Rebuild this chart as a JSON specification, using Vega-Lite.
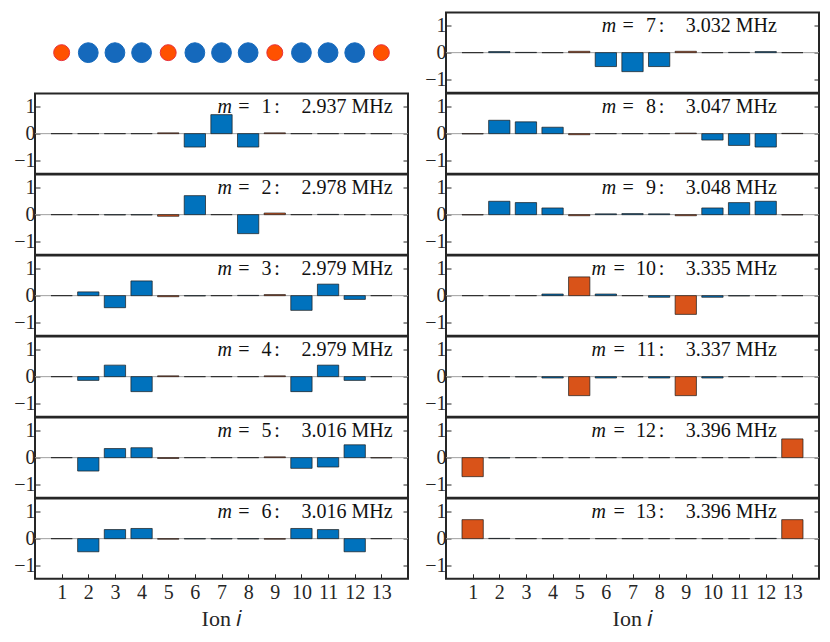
{
  "$schema": "https://vega.github.io/schema/vega-lite/v6.json",
  "description": "Normal-mode participation of a 13-ion chain, modes m = 1..13.",
  "padding": {"left": 12, "top": 11.5, "right": 5, "bottom": 5},
  "background": "white",
  "config": {
    "view": {"stroke": "#262626", "strokeWidth": 2},
    "axis": {
      "disable": true, "grid": false, "domain": false, "minExtent": 0,
      "labelFont": "Liberation Serif, Times New Roman, Times, serif", "labelFontSize": 20, "labelColor": "#262626",
      "tickColor": "#262626", "tickSize": -5, "tickWidth": 1, "labelPadding": 5,
      "titleFont": "Liberation Serif, Times New Roman, Times, serif", "titleFontSize": 22, "titleFontWeight": "normal",
      "titleColor": "#262626", "titlePadding": 6
    },
    "text": {"font": "Liberation Serif, Times New Roman, Times, serif", "fontSize": 20, "color": "#111", "baseline": "alphabetic", "dy": 6},
    "bar": {"stroke": "#1a1a1a", "strokeWidth": 0.7}
  },
  "datasets": {
    "ions": [
      {"ion": 1, "species": "edge"}, {"ion": 2, "species": "bulk"}, {"ion": 3, "species": "bulk"},
      {"ion": 4, "species": "bulk"}, {"ion": 5, "species": "edge"}, {"ion": 6, "species": "bulk"},
      {"ion": 7, "species": "bulk"}, {"ion": 8, "species": "bulk"}, {"ion": 9, "species": "edge"},
      {"ion": 10, "species": "bulk"}, {"ion": 11, "species": "bulk"}, {"ion": 12, "species": "bulk"},
      {"ion": 13, "species": "edge"}
    ],
    "labels": [
      {"m": 1, "freq": "2.937 MHz"}, {"m": 2, "freq": "2.978 MHz"}, {"m": 3, "freq": "2.979 MHz"},
      {"m": 4, "freq": "2.979 MHz"}, {"m": 5, "freq": "3.016 MHz"}, {"m": 6, "freq": "3.016 MHz"},
      {"m": 7, "freq": "3.032 MHz"}, {"m": 8, "freq": "3.047 MHz"}, {"m": 9, "freq": "3.048 MHz"},
      {"m": 10, "freq": "3.335 MHz"}, {"m": 11, "freq": "3.337 MHz"}, {"m": 12, "freq": "3.396 MHz"},
      {"m": 13, "freq": "3.396 MHz"}
    ],
    "modes": [
      {"m":1,"ion":1,"amp":0},{"m":1,"ion":2,"amp":0},{"m":1,"ion":3,"amp":0},{"m":1,"ion":4,"amp":0},{"m":1,"ion":5,"amp":0.03},{"m":1,"ion":6,"amp":-0.5},{"m":1,"ion":7,"amp":0.71},{"m":1,"ion":8,"amp":-0.5},{"m":1,"ion":9,"amp":0.03},{"m":1,"ion":10,"amp":0},{"m":1,"ion":11,"amp":0},{"m":1,"ion":12,"amp":0},{"m":1,"ion":13,"amp":0},
      {"m":2,"ion":1,"amp":0},{"m":2,"ion":2,"amp":0},{"m":2,"ion":3,"amp":-0.01},{"m":2,"ion":4,"amp":-0.01},{"m":2,"ion":5,"amp":-0.06},{"m":2,"ion":6,"amp":0.71},{"m":2,"ion":7,"amp":0},{"m":2,"ion":8,"amp":-0.71},{"m":2,"ion":9,"amp":0.06},{"m":2,"ion":10,"amp":0},{"m":2,"ion":11,"amp":0.01},{"m":2,"ion":12,"amp":0},{"m":2,"ion":13,"amp":0},
      {"m":3,"ion":1,"amp":0},{"m":3,"ion":2,"amp":0.14},{"m":3,"ion":3,"amp":-0.45},{"m":3,"ion":4,"amp":0.55},{"m":3,"ion":5,"amp":-0.04},{"m":3,"ion":6,"amp":-0.01},{"m":3,"ion":7,"amp":0},{"m":3,"ion":8,"amp":0.01},{"m":3,"ion":9,"amp":0.04},{"m":3,"ion":10,"amp":-0.55},{"m":3,"ion":11,"amp":0.43},{"m":3,"ion":12,"amp":-0.14},{"m":3,"ion":13,"amp":0},
      {"m":4,"ion":1,"amp":0},{"m":4,"ion":2,"amp":-0.14},{"m":4,"ion":3,"amp":0.43},{"m":4,"ion":4,"amp":-0.56},{"m":4,"ion":5,"amp":0.03},{"m":4,"ion":6,"amp":0},{"m":4,"ion":7,"amp":0},{"m":4,"ion":8,"amp":0},{"m":4,"ion":9,"amp":0.03},{"m":4,"ion":10,"amp":-0.56},{"m":4,"ion":11,"amp":0.43},{"m":4,"ion":12,"amp":-0.14},{"m":4,"ion":13,"amp":0},
      {"m":5,"ion":1,"amp":0},{"m":5,"ion":2,"amp":-0.5},{"m":5,"ion":3,"amp":0.34},{"m":5,"ion":4,"amp":0.37},{"m":5,"ion":5,"amp":-0.03},{"m":5,"ion":6,"amp":0},{"m":5,"ion":7,"amp":0},{"m":5,"ion":8,"amp":0},{"m":5,"ion":9,"amp":0.03},{"m":5,"ion":10,"amp":-0.4},{"m":5,"ion":11,"amp":-0.35},{"m":5,"ion":12,"amp":0.48},{"m":5,"ion":13,"amp":-0.01},
      {"m":6,"ion":1,"amp":0},{"m":6,"ion":2,"amp":-0.49},{"m":6,"ion":3,"amp":0.34},{"m":6,"ion":4,"amp":0.38},{"m":6,"ion":5,"amp":-0.02},{"m":6,"ion":6,"amp":-0.01},{"m":6,"ion":7,"amp":-0.01},{"m":6,"ion":8,"amp":-0.01},{"m":6,"ion":9,"amp":-0.02},{"m":6,"ion":10,"amp":0.38},{"m":6,"ion":11,"amp":0.34},{"m":6,"ion":12,"amp":-0.49},{"m":6,"ion":13,"amp":0},
      {"m":7,"ion":1,"amp":0},{"m":7,"ion":2,"amp":0.04},{"m":7,"ion":3,"amp":0.01},{"m":7,"ion":4,"amp":0},{"m":7,"ion":5,"amp":0.05},{"m":7,"ion":6,"amp":-0.52},{"m":7,"ion":7,"amp":-0.71},{"m":7,"ion":8,"amp":-0.52},{"m":7,"ion":9,"amp":0.05},{"m":7,"ion":10,"amp":0},{"m":7,"ion":11,"amp":0.01},{"m":7,"ion":12,"amp":0.04},{"m":7,"ion":13,"amp":0},
      {"m":8,"ion":1,"amp":-0.01},{"m":8,"ion":2,"amp":0.5},{"m":8,"ion":3,"amp":0.44},{"m":8,"ion":4,"amp":0.24},{"m":8,"ion":5,"amp":-0.04},{"m":8,"ion":6,"amp":0},{"m":8,"ion":7,"amp":0},{"m":8,"ion":8,"amp":0},{"m":8,"ion":9,"amp":0.02},{"m":8,"ion":10,"amp":-0.24},{"m":8,"ion":11,"amp":-0.44},{"m":8,"ion":12,"amp":-0.5},{"m":8,"ion":13,"amp":0.01},
      {"m":9,"ion":1,"amp":-0.01},{"m":9,"ion":2,"amp":0.5},{"m":9,"ion":3,"amp":0.45},{"m":9,"ion":4,"amp":0.25},{"m":9,"ion":5,"amp":-0.04},{"m":9,"ion":6,"amp":0.03},{"m":9,"ion":7,"amp":0.04},{"m":9,"ion":8,"amp":0.03},{"m":9,"ion":9,"amp":-0.04},{"m":9,"ion":10,"amp":0.25},{"m":9,"ion":11,"amp":0.45},{"m":9,"ion":12,"amp":0.5},{"m":9,"ion":13,"amp":-0.01},
      {"m":10,"ion":1,"amp":0},{"m":10,"ion":2,"amp":0},{"m":10,"ion":3,"amp":0},{"m":10,"ion":4,"amp":0.06},{"m":10,"ion":5,"amp":0.7},{"m":10,"ion":6,"amp":0.06},{"m":10,"ion":7,"amp":0},{"m":10,"ion":8,"amp":-0.06},{"m":10,"ion":9,"amp":-0.7},{"m":10,"ion":10,"amp":-0.06},{"m":10,"ion":11,"amp":-0.01},{"m":10,"ion":12,"amp":0},{"m":10,"ion":13,"amp":0},
      {"m":11,"ion":1,"amp":0},{"m":11,"ion":2,"amp":0},{"m":11,"ion":3,"amp":-0.01},{"m":11,"ion":4,"amp":-0.05},{"m":11,"ion":5,"amp":-0.71},{"m":11,"ion":6,"amp":-0.05},{"m":11,"ion":7,"amp":-0.01},{"m":11,"ion":8,"amp":-0.05},{"m":11,"ion":9,"amp":-0.71},{"m":11,"ion":10,"amp":-0.05},{"m":11,"ion":11,"amp":0},{"m":11,"ion":12,"amp":0},{"m":11,"ion":13,"amp":0},
      {"m":12,"ion":1,"amp":-0.71},{"m":12,"ion":2,"amp":-0.01},{"m":12,"ion":3,"amp":0},{"m":12,"ion":4,"amp":0},{"m":12,"ion":5,"amp":0},{"m":12,"ion":6,"amp":0},{"m":12,"ion":7,"amp":0},{"m":12,"ion":8,"amp":0},{"m":12,"ion":9,"amp":0},{"m":12,"ion":10,"amp":0},{"m":12,"ion":11,"amp":0},{"m":12,"ion":12,"amp":0.01},{"m":12,"ion":13,"amp":0.7},
      {"m":13,"ion":1,"amp":0.71},{"m":13,"ion":2,"amp":0.01},{"m":13,"ion":3,"amp":0},{"m":13,"ion":4,"amp":0},{"m":13,"ion":5,"amp":0},{"m":13,"ion":6,"amp":0},{"m":13,"ion":7,"amp":0},{"m":13,"ion":8,"amp":0},{"m":13,"ion":9,"amp":0},{"m":13,"ion":10,"amp":0},{"m":13,"ion":11,"amp":0},{"m":13,"ion":12,"amp":0.01},{"m":13,"ion":13,"amp":0.71}
    ]
  },
  "spacing": 13,
  "hconcat": [
    {
      "bounds": "flush",
      "spacing": 0,
      "vconcat": [
        {
          "width": 373, "height": 80.3,
          "view": {"stroke": null},
          "data": {"name": "ions"},
          "mark": {"type": "point", "filled": true, "opacity": 1, "strokeWidth": 1},
          "encoding": {
            "x": {"field": "ion", "type": "quantitative", "scale": {"domain": [0, 14], "nice": false, "zero": false, "padding": 0}},
            "fill": {"field": "species", "type": "nominal", "scale": {"domain": ["bulk", "edge"], "range": ["#1569bc", "#ff5100"]}, "legend": null},
            "stroke": {"field": "species", "type": "nominal", "scale": {"domain": ["bulk", "edge"], "range": ["#1569bc", "#e8303a"]}, "legend": null},
            "size": {"condition": {"test": "datum.species == 'edge'", "value": 254}, "value": 391}
          }
        },
        {
          "width": 373, "height": 80.3,
          "resolve": {"axis": {"x": "independent", "y": "independent"}},
          "layer": [
            {"data": {"name": "labels"}, "transform": [{"filter": "datum.m == 1"}], "mark": {"type": "rule", "color": "#a0a0a0", "strokeWidth": 1}, "encoding": {"y": {"datum": 0, "type": "quantitative", "scale": {"domain": [-1.5, 1.5], "nice": false, "zero": false}, "axis": {"orient": "left", "values": [-1, 0, 1], "title": null}}}},
            {"data": {"name": "modes"}, "transform": [{"filter": "datum.m == 1"}, {"lookup": "ion", "from": {"data": {"name": "ions"}, "key": "ion", "fields": ["species"]}}], "mark": {"type": "bar", "width": 21.3}, "encoding": {"x": {"field": "ion", "type": "quantitative", "scale": {"domain": [0, 14], "nice": false, "zero": false, "padding": 0}}, "y": {"field": "amp", "type": "quantitative", "axis": {"orient": "right", "values": [-1, 0, 1], "labels": false, "title": null}}, "color": {"field": "species", "type": "nominal", "scale": {"domain": ["bulk", "edge"], "range": ["#0072BD", "#D95319"]}, "legend": null}}},
            {"data": {"name": "labels"}, "transform": [{"filter": "datum.m == 1"}], "encoding": {"y": {"datum": 1, "type": "quantitative"}}, "layer": [
              {"mark": {"type": "text", "text": "m", "fontStyle": "italic", "align": "right"}, "encoding": {"x": {"datum": 7.39, "type": "quantitative"}}},
              {"mark": {"type": "text", "text": "=", "align": "center"}, "encoding": {"x": {"datum": 7.84, "type": "quantitative"}}},
              {"mark": {"type": "text", "align": "right"}, "encoding": {"x": {"datum": 8.88, "type": "quantitative"}, "text": {"field": "m", "type": "nominal"}}},
              {"mark": {"type": "text", "text": ":", "align": "right"}, "encoding": {"x": {"datum": 9.19, "type": "quantitative"}}},
              {"mark": {"type": "text", "align": "left"}, "encoding": {"x": {"datum": 10, "type": "quantitative"}, "text": {"field": "freq", "type": "nominal"}}}
            ]}
          ]
        },
        {
          "width": 373, "height": 80.3,
          "resolve": {"axis": {"x": "independent", "y": "independent"}},
          "layer": [
            {"data": {"name": "labels"}, "transform": [{"filter": "datum.m == 2"}], "mark": {"type": "rule", "color": "#a0a0a0", "strokeWidth": 1}, "encoding": {"y": {"datum": 0, "type": "quantitative", "scale": {"domain": [-1.5, 1.5], "nice": false, "zero": false}, "axis": {"orient": "left", "values": [-1, 0, 1], "title": null}}}},
            {"data": {"name": "modes"}, "transform": [{"filter": "datum.m == 2"}, {"lookup": "ion", "from": {"data": {"name": "ions"}, "key": "ion", "fields": ["species"]}}], "mark": {"type": "bar", "width": 21.3}, "encoding": {"x": {"field": "ion", "type": "quantitative", "scale": {"domain": [0, 14], "nice": false, "zero": false, "padding": 0}}, "y": {"field": "amp", "type": "quantitative", "axis": {"orient": "right", "values": [-1, 0, 1], "labels": false, "title": null}}, "color": {"field": "species", "type": "nominal", "scale": {"domain": ["bulk", "edge"], "range": ["#0072BD", "#D95319"]}, "legend": null}}},
            {"data": {"name": "labels"}, "transform": [{"filter": "datum.m == 2"}], "encoding": {"y": {"datum": 1, "type": "quantitative"}}, "layer": [
              {"mark": {"type": "text", "text": "m", "fontStyle": "italic", "align": "right"}, "encoding": {"x": {"datum": 7.39, "type": "quantitative"}}},
              {"mark": {"type": "text", "text": "=", "align": "center"}, "encoding": {"x": {"datum": 7.84, "type": "quantitative"}}},
              {"mark": {"type": "text", "align": "right"}, "encoding": {"x": {"datum": 8.88, "type": "quantitative"}, "text": {"field": "m", "type": "nominal"}}},
              {"mark": {"type": "text", "text": ":", "align": "right"}, "encoding": {"x": {"datum": 9.19, "type": "quantitative"}}},
              {"mark": {"type": "text", "align": "left"}, "encoding": {"x": {"datum": 10, "type": "quantitative"}, "text": {"field": "freq", "type": "nominal"}}}
            ]}
          ]
        },
        {
          "width": 373, "height": 80.3,
          "resolve": {"axis": {"x": "independent", "y": "independent"}},
          "layer": [
            {"data": {"name": "labels"}, "transform": [{"filter": "datum.m == 3"}], "mark": {"type": "rule", "color": "#a0a0a0", "strokeWidth": 1}, "encoding": {"y": {"datum": 0, "type": "quantitative", "scale": {"domain": [-1.5, 1.5], "nice": false, "zero": false}, "axis": {"orient": "left", "values": [-1, 0, 1], "title": null}}}},
            {"data": {"name": "modes"}, "transform": [{"filter": "datum.m == 3"}, {"lookup": "ion", "from": {"data": {"name": "ions"}, "key": "ion", "fields": ["species"]}}], "mark": {"type": "bar", "width": 21.3}, "encoding": {"x": {"field": "ion", "type": "quantitative", "scale": {"domain": [0, 14], "nice": false, "zero": false, "padding": 0}}, "y": {"field": "amp", "type": "quantitative", "axis": {"orient": "right", "values": [-1, 0, 1], "labels": false, "title": null}}, "color": {"field": "species", "type": "nominal", "scale": {"domain": ["bulk", "edge"], "range": ["#0072BD", "#D95319"]}, "legend": null}}},
            {"data": {"name": "labels"}, "transform": [{"filter": "datum.m == 3"}], "encoding": {"y": {"datum": 1, "type": "quantitative"}}, "layer": [
              {"mark": {"type": "text", "text": "m", "fontStyle": "italic", "align": "right"}, "encoding": {"x": {"datum": 7.39, "type": "quantitative"}}},
              {"mark": {"type": "text", "text": "=", "align": "center"}, "encoding": {"x": {"datum": 7.84, "type": "quantitative"}}},
              {"mark": {"type": "text", "align": "right"}, "encoding": {"x": {"datum": 8.88, "type": "quantitative"}, "text": {"field": "m", "type": "nominal"}}},
              {"mark": {"type": "text", "text": ":", "align": "right"}, "encoding": {"x": {"datum": 9.19, "type": "quantitative"}}},
              {"mark": {"type": "text", "align": "left"}, "encoding": {"x": {"datum": 10, "type": "quantitative"}, "text": {"field": "freq", "type": "nominal"}}}
            ]}
          ]
        },
        {
          "width": 373, "height": 80.3,
          "resolve": {"axis": {"x": "independent", "y": "independent"}},
          "layer": [
            {"data": {"name": "labels"}, "transform": [{"filter": "datum.m == 4"}], "mark": {"type": "rule", "color": "#a0a0a0", "strokeWidth": 1}, "encoding": {"y": {"datum": 0, "type": "quantitative", "scale": {"domain": [-1.5, 1.5], "nice": false, "zero": false}, "axis": {"orient": "left", "values": [-1, 0, 1], "title": null}}}},
            {"data": {"name": "modes"}, "transform": [{"filter": "datum.m == 4"}, {"lookup": "ion", "from": {"data": {"name": "ions"}, "key": "ion", "fields": ["species"]}}], "mark": {"type": "bar", "width": 21.3}, "encoding": {"x": {"field": "ion", "type": "quantitative", "scale": {"domain": [0, 14], "nice": false, "zero": false, "padding": 0}}, "y": {"field": "amp", "type": "quantitative", "axis": {"orient": "right", "values": [-1, 0, 1], "labels": false, "title": null}}, "color": {"field": "species", "type": "nominal", "scale": {"domain": ["bulk", "edge"], "range": ["#0072BD", "#D95319"]}, "legend": null}}},
            {"data": {"name": "labels"}, "transform": [{"filter": "datum.m == 4"}], "encoding": {"y": {"datum": 1, "type": "quantitative"}}, "layer": [
              {"mark": {"type": "text", "text": "m", "fontStyle": "italic", "align": "right"}, "encoding": {"x": {"datum": 7.39, "type": "quantitative"}}},
              {"mark": {"type": "text", "text": "=", "align": "center"}, "encoding": {"x": {"datum": 7.84, "type": "quantitative"}}},
              {"mark": {"type": "text", "align": "right"}, "encoding": {"x": {"datum": 8.88, "type": "quantitative"}, "text": {"field": "m", "type": "nominal"}}},
              {"mark": {"type": "text", "text": ":", "align": "right"}, "encoding": {"x": {"datum": 9.19, "type": "quantitative"}}},
              {"mark": {"type": "text", "align": "left"}, "encoding": {"x": {"datum": 10, "type": "quantitative"}, "text": {"field": "freq", "type": "nominal"}}}
            ]}
          ]
        },
        {
          "width": 373, "height": 80.3,
          "resolve": {"axis": {"x": "independent", "y": "independent"}},
          "layer": [
            {"data": {"name": "labels"}, "transform": [{"filter": "datum.m == 5"}], "mark": {"type": "rule", "color": "#a0a0a0", "strokeWidth": 1}, "encoding": {"y": {"datum": 0, "type": "quantitative", "scale": {"domain": [-1.5, 1.5], "nice": false, "zero": false}, "axis": {"orient": "left", "values": [-1, 0, 1], "title": null}}}},
            {"data": {"name": "modes"}, "transform": [{"filter": "datum.m == 5"}, {"lookup": "ion", "from": {"data": {"name": "ions"}, "key": "ion", "fields": ["species"]}}], "mark": {"type": "bar", "width": 21.3}, "encoding": {"x": {"field": "ion", "type": "quantitative", "scale": {"domain": [0, 14], "nice": false, "zero": false, "padding": 0}}, "y": {"field": "amp", "type": "quantitative", "axis": {"orient": "right", "values": [-1, 0, 1], "labels": false, "title": null}}, "color": {"field": "species", "type": "nominal", "scale": {"domain": ["bulk", "edge"], "range": ["#0072BD", "#D95319"]}, "legend": null}}},
            {"data": {"name": "labels"}, "transform": [{"filter": "datum.m == 5"}], "encoding": {"y": {"datum": 1, "type": "quantitative"}}, "layer": [
              {"mark": {"type": "text", "text": "m", "fontStyle": "italic", "align": "right"}, "encoding": {"x": {"datum": 7.39, "type": "quantitative"}}},
              {"mark": {"type": "text", "text": "=", "align": "center"}, "encoding": {"x": {"datum": 7.84, "type": "quantitative"}}},
              {"mark": {"type": "text", "align": "right"}, "encoding": {"x": {"datum": 8.88, "type": "quantitative"}, "text": {"field": "m", "type": "nominal"}}},
              {"mark": {"type": "text", "text": ":", "align": "right"}, "encoding": {"x": {"datum": 9.19, "type": "quantitative"}}},
              {"mark": {"type": "text", "align": "left"}, "encoding": {"x": {"datum": 10, "type": "quantitative"}, "text": {"field": "freq", "type": "nominal"}}}
            ]}
          ]
        },
        {
          "width": 373, "height": 80.3,
          "resolve": {"axis": {"x": "independent", "y": "independent"}},
          "layer": [
            {"data": {"name": "labels"}, "transform": [{"filter": "datum.m == 6"}], "mark": {"type": "rule", "color": "#a0a0a0", "strokeWidth": 1}, "encoding": {"y": {"datum": 0, "type": "quantitative", "scale": {"domain": [-1.5, 1.5], "nice": false, "zero": false}, "axis": {"orient": "left", "values": [-1, 0, 1], "title": null}}}},
            {"data": {"name": "modes"}, "transform": [{"filter": "datum.m == 6"}, {"lookup": "ion", "from": {"data": {"name": "ions"}, "key": "ion", "fields": ["species"]}}], "mark": {"type": "bar", "width": 21.3}, "encoding": {"x": {"field": "ion", "type": "quantitative", "scale": {"domain": [0, 14], "nice": false, "zero": false, "padding": 0}, "axis": {"orient": "bottom", "values": [1, 2, 3, 4, 5, 6, 7, 8, 9, 10, 11, 12, 13], "format": "d", "labelPadding": 9, "title": "Ion 𝑖"}}, "y": {"field": "amp", "type": "quantitative", "axis": {"orient": "right", "values": [-1, 0, 1], "labels": false, "title": null}}, "color": {"field": "species", "type": "nominal", "scale": {"domain": ["bulk", "edge"], "range": ["#0072BD", "#D95319"]}, "legend": null}}},
            {"data": {"name": "labels"}, "transform": [{"filter": "datum.m == 6"}], "encoding": {"y": {"datum": 1, "type": "quantitative"}}, "layer": [
              {"mark": {"type": "text", "text": "m", "fontStyle": "italic", "align": "right"}, "encoding": {"x": {"datum": 7.39, "type": "quantitative"}}},
              {"mark": {"type": "text", "text": "=", "align": "center"}, "encoding": {"x": {"datum": 7.84, "type": "quantitative"}}},
              {"mark": {"type": "text", "align": "right"}, "encoding": {"x": {"datum": 8.88, "type": "quantitative"}, "text": {"field": "m", "type": "nominal"}}},
              {"mark": {"type": "text", "text": ":", "align": "right"}, "encoding": {"x": {"datum": 9.19, "type": "quantitative"}}},
              {"mark": {"type": "text", "align": "left"}, "encoding": {"x": {"datum": 10, "type": "quantitative", "axis": {"orient": "top", "values": [1, 2, 3, 4, 5, 6, 7, 8, 9, 10, 11, 12, 13], "labels": false, "title": null}}, "text": {"field": "freq", "type": "nominal"}}}
            ]}
          ]
        }
      ]
    },
    {
      "bounds": "flush",
      "spacing": 0,
      "vconcat": [
        {
          "width": 373, "height": 80.3,
          "resolve": {"axis": {"x": "independent", "y": "independent"}},
          "layer": [
            {"data": {"name": "labels"}, "transform": [{"filter": "datum.m == 7"}], "mark": {"type": "rule", "color": "#a0a0a0", "strokeWidth": 1}, "encoding": {"y": {"datum": 0, "type": "quantitative", "scale": {"domain": [-1.5, 1.5], "nice": false, "zero": false}, "axis": {"orient": "left", "values": [-1, 0, 1], "title": null}}}},
            {"data": {"name": "modes"}, "transform": [{"filter": "datum.m == 7"}, {"lookup": "ion", "from": {"data": {"name": "ions"}, "key": "ion", "fields": ["species"]}}], "mark": {"type": "bar", "width": 21.3}, "encoding": {"x": {"field": "ion", "type": "quantitative", "scale": {"domain": [0, 14], "nice": false, "zero": false, "padding": 0}}, "y": {"field": "amp", "type": "quantitative", "axis": {"orient": "right", "values": [-1, 0, 1], "labels": false, "title": null}}, "color": {"field": "species", "type": "nominal", "scale": {"domain": ["bulk", "edge"], "range": ["#0072BD", "#D95319"]}, "legend": null}}},
            {"data": {"name": "labels"}, "transform": [{"filter": "datum.m == 7"}], "encoding": {"y": {"datum": 1, "type": "quantitative"}}, "layer": [
              {"mark": {"type": "text", "text": "m", "fontStyle": "italic", "align": "right"}, "encoding": {"x": {"datum": 6.39, "type": "quantitative"}}},
              {"mark": {"type": "text", "text": "=", "align": "center"}, "encoding": {"x": {"datum": 6.84, "type": "quantitative"}}},
              {"mark": {"type": "text", "align": "right"}, "encoding": {"x": {"datum": 7.88, "type": "quantitative"}, "text": {"field": "m", "type": "nominal"}}},
              {"mark": {"type": "text", "text": ":", "align": "right"}, "encoding": {"x": {"datum": 8.19, "type": "quantitative"}}},
              {"mark": {"type": "text", "align": "left"}, "encoding": {"x": {"datum": 9, "type": "quantitative"}, "text": {"field": "freq", "type": "nominal"}}}
            ]}
          ]
        },
        {
          "width": 373, "height": 80.3,
          "resolve": {"axis": {"x": "independent", "y": "independent"}},
          "layer": [
            {"data": {"name": "labels"}, "transform": [{"filter": "datum.m == 8"}], "mark": {"type": "rule", "color": "#a0a0a0", "strokeWidth": 1}, "encoding": {"y": {"datum": 0, "type": "quantitative", "scale": {"domain": [-1.5, 1.5], "nice": false, "zero": false}, "axis": {"orient": "left", "values": [-1, 0, 1], "title": null}}}},
            {"data": {"name": "modes"}, "transform": [{"filter": "datum.m == 8"}, {"lookup": "ion", "from": {"data": {"name": "ions"}, "key": "ion", "fields": ["species"]}}], "mark": {"type": "bar", "width": 21.3}, "encoding": {"x": {"field": "ion", "type": "quantitative", "scale": {"domain": [0, 14], "nice": false, "zero": false, "padding": 0}}, "y": {"field": "amp", "type": "quantitative", "axis": {"orient": "right", "values": [-1, 0, 1], "labels": false, "title": null}}, "color": {"field": "species", "type": "nominal", "scale": {"domain": ["bulk", "edge"], "range": ["#0072BD", "#D95319"]}, "legend": null}}},
            {"data": {"name": "labels"}, "transform": [{"filter": "datum.m == 8"}], "encoding": {"y": {"datum": 1, "type": "quantitative"}}, "layer": [
              {"mark": {"type": "text", "text": "m", "fontStyle": "italic", "align": "right"}, "encoding": {"x": {"datum": 6.39, "type": "quantitative"}}},
              {"mark": {"type": "text", "text": "=", "align": "center"}, "encoding": {"x": {"datum": 6.84, "type": "quantitative"}}},
              {"mark": {"type": "text", "align": "right"}, "encoding": {"x": {"datum": 7.88, "type": "quantitative"}, "text": {"field": "m", "type": "nominal"}}},
              {"mark": {"type": "text", "text": ":", "align": "right"}, "encoding": {"x": {"datum": 8.19, "type": "quantitative"}}},
              {"mark": {"type": "text", "align": "left"}, "encoding": {"x": {"datum": 9, "type": "quantitative"}, "text": {"field": "freq", "type": "nominal"}}}
            ]}
          ]
        },
        {
          "width": 373, "height": 80.3,
          "resolve": {"axis": {"x": "independent", "y": "independent"}},
          "layer": [
            {"data": {"name": "labels"}, "transform": [{"filter": "datum.m == 9"}], "mark": {"type": "rule", "color": "#a0a0a0", "strokeWidth": 1}, "encoding": {"y": {"datum": 0, "type": "quantitative", "scale": {"domain": [-1.5, 1.5], "nice": false, "zero": false}, "axis": {"orient": "left", "values": [-1, 0, 1], "title": null}}}},
            {"data": {"name": "modes"}, "transform": [{"filter": "datum.m == 9"}, {"lookup": "ion", "from": {"data": {"name": "ions"}, "key": "ion", "fields": ["species"]}}], "mark": {"type": "bar", "width": 21.3}, "encoding": {"x": {"field": "ion", "type": "quantitative", "scale": {"domain": [0, 14], "nice": false, "zero": false, "padding": 0}}, "y": {"field": "amp", "type": "quantitative", "axis": {"orient": "right", "values": [-1, 0, 1], "labels": false, "title": null}}, "color": {"field": "species", "type": "nominal", "scale": {"domain": ["bulk", "edge"], "range": ["#0072BD", "#D95319"]}, "legend": null}}},
            {"data": {"name": "labels"}, "transform": [{"filter": "datum.m == 9"}], "encoding": {"y": {"datum": 1, "type": "quantitative"}}, "layer": [
              {"mark": {"type": "text", "text": "m", "fontStyle": "italic", "align": "right"}, "encoding": {"x": {"datum": 6.39, "type": "quantitative"}}},
              {"mark": {"type": "text", "text": "=", "align": "center"}, "encoding": {"x": {"datum": 6.84, "type": "quantitative"}}},
              {"mark": {"type": "text", "align": "right"}, "encoding": {"x": {"datum": 7.88, "type": "quantitative"}, "text": {"field": "m", "type": "nominal"}}},
              {"mark": {"type": "text", "text": ":", "align": "right"}, "encoding": {"x": {"datum": 8.19, "type": "quantitative"}}},
              {"mark": {"type": "text", "align": "left"}, "encoding": {"x": {"datum": 9, "type": "quantitative"}, "text": {"field": "freq", "type": "nominal"}}}
            ]}
          ]
        },
        {
          "width": 373, "height": 80.3,
          "resolve": {"axis": {"x": "independent", "y": "independent"}},
          "layer": [
            {"data": {"name": "labels"}, "transform": [{"filter": "datum.m == 10"}], "mark": {"type": "rule", "color": "#a0a0a0", "strokeWidth": 1}, "encoding": {"y": {"datum": 0, "type": "quantitative", "scale": {"domain": [-1.5, 1.5], "nice": false, "zero": false}, "axis": {"orient": "left", "values": [-1, 0, 1], "title": null}}}},
            {"data": {"name": "modes"}, "transform": [{"filter": "datum.m == 10"}, {"lookup": "ion", "from": {"data": {"name": "ions"}, "key": "ion", "fields": ["species"]}}], "mark": {"type": "bar", "width": 21.3}, "encoding": {"x": {"field": "ion", "type": "quantitative", "scale": {"domain": [0, 14], "nice": false, "zero": false, "padding": 0}}, "y": {"field": "amp", "type": "quantitative", "axis": {"orient": "right", "values": [-1, 0, 1], "labels": false, "title": null}}, "color": {"field": "species", "type": "nominal", "scale": {"domain": ["bulk", "edge"], "range": ["#0072BD", "#D95319"]}, "legend": null}}},
            {"data": {"name": "labels"}, "transform": [{"filter": "datum.m == 10"}], "encoding": {"y": {"datum": 1, "type": "quantitative"}}, "layer": [
              {"mark": {"type": "text", "text": "m", "fontStyle": "italic", "align": "right"}, "encoding": {"x": {"datum": 6.0, "type": "quantitative"}}},
              {"mark": {"type": "text", "text": "=", "align": "center"}, "encoding": {"x": {"datum": 6.5, "type": "quantitative"}}},
              {"mark": {"type": "text", "align": "right"}, "encoding": {"x": {"datum": 7.88, "type": "quantitative"}, "text": {"field": "m", "type": "nominal"}}},
              {"mark": {"type": "text", "text": ":", "align": "right"}, "encoding": {"x": {"datum": 8.19, "type": "quantitative"}}},
              {"mark": {"type": "text", "align": "left"}, "encoding": {"x": {"datum": 9, "type": "quantitative"}, "text": {"field": "freq", "type": "nominal"}}}
            ]}
          ]
        },
        {
          "width": 373, "height": 80.3,
          "resolve": {"axis": {"x": "independent", "y": "independent"}},
          "layer": [
            {"data": {"name": "labels"}, "transform": [{"filter": "datum.m == 11"}], "mark": {"type": "rule", "color": "#a0a0a0", "strokeWidth": 1}, "encoding": {"y": {"datum": 0, "type": "quantitative", "scale": {"domain": [-1.5, 1.5], "nice": false, "zero": false}, "axis": {"orient": "left", "values": [-1, 0, 1], "title": null}}}},
            {"data": {"name": "modes"}, "transform": [{"filter": "datum.m == 11"}, {"lookup": "ion", "from": {"data": {"name": "ions"}, "key": "ion", "fields": ["species"]}}], "mark": {"type": "bar", "width": 21.3}, "encoding": {"x": {"field": "ion", "type": "quantitative", "scale": {"domain": [0, 14], "nice": false, "zero": false, "padding": 0}}, "y": {"field": "amp", "type": "quantitative", "axis": {"orient": "right", "values": [-1, 0, 1], "labels": false, "title": null}}, "color": {"field": "species", "type": "nominal", "scale": {"domain": ["bulk", "edge"], "range": ["#0072BD", "#D95319"]}, "legend": null}}},
            {"data": {"name": "labels"}, "transform": [{"filter": "datum.m == 11"}], "encoding": {"y": {"datum": 1, "type": "quantitative"}}, "layer": [
              {"mark": {"type": "text", "text": "m", "fontStyle": "italic", "align": "right"}, "encoding": {"x": {"datum": 6.0, "type": "quantitative"}}},
              {"mark": {"type": "text", "text": "=", "align": "center"}, "encoding": {"x": {"datum": 6.5, "type": "quantitative"}}},
              {"mark": {"type": "text", "align": "right"}, "encoding": {"x": {"datum": 7.88, "type": "quantitative"}, "text": {"field": "m", "type": "nominal"}}},
              {"mark": {"type": "text", "text": ":", "align": "right"}, "encoding": {"x": {"datum": 8.19, "type": "quantitative"}}},
              {"mark": {"type": "text", "align": "left"}, "encoding": {"x": {"datum": 9, "type": "quantitative"}, "text": {"field": "freq", "type": "nominal"}}}
            ]}
          ]
        },
        {
          "width": 373, "height": 80.3,
          "resolve": {"axis": {"x": "independent", "y": "independent"}},
          "layer": [
            {"data": {"name": "labels"}, "transform": [{"filter": "datum.m == 12"}], "mark": {"type": "rule", "color": "#a0a0a0", "strokeWidth": 1}, "encoding": {"y": {"datum": 0, "type": "quantitative", "scale": {"domain": [-1.5, 1.5], "nice": false, "zero": false}, "axis": {"orient": "left", "values": [-1, 0, 1], "title": null}}}},
            {"data": {"name": "modes"}, "transform": [{"filter": "datum.m == 12"}, {"lookup": "ion", "from": {"data": {"name": "ions"}, "key": "ion", "fields": ["species"]}}], "mark": {"type": "bar", "width": 21.3}, "encoding": {"x": {"field": "ion", "type": "quantitative", "scale": {"domain": [0, 14], "nice": false, "zero": false, "padding": 0}}, "y": {"field": "amp", "type": "quantitative", "axis": {"orient": "right", "values": [-1, 0, 1], "labels": false, "title": null}}, "color": {"field": "species", "type": "nominal", "scale": {"domain": ["bulk", "edge"], "range": ["#0072BD", "#D95319"]}, "legend": null}}},
            {"data": {"name": "labels"}, "transform": [{"filter": "datum.m == 12"}], "encoding": {"y": {"datum": 1, "type": "quantitative"}}, "layer": [
              {"mark": {"type": "text", "text": "m", "fontStyle": "italic", "align": "right"}, "encoding": {"x": {"datum": 6.0, "type": "quantitative"}}},
              {"mark": {"type": "text", "text": "=", "align": "center"}, "encoding": {"x": {"datum": 6.5, "type": "quantitative"}}},
              {"mark": {"type": "text", "align": "right"}, "encoding": {"x": {"datum": 7.88, "type": "quantitative"}, "text": {"field": "m", "type": "nominal"}}},
              {"mark": {"type": "text", "text": ":", "align": "right"}, "encoding": {"x": {"datum": 8.19, "type": "quantitative"}}},
              {"mark": {"type": "text", "align": "left"}, "encoding": {"x": {"datum": 9, "type": "quantitative"}, "text": {"field": "freq", "type": "nominal"}}}
            ]}
          ]
        },
        {
          "width": 373, "height": 80.3,
          "resolve": {"axis": {"x": "independent", "y": "independent"}},
          "layer": [
            {"data": {"name": "labels"}, "transform": [{"filter": "datum.m == 13"}], "mark": {"type": "rule", "color": "#a0a0a0", "strokeWidth": 1}, "encoding": {"y": {"datum": 0, "type": "quantitative", "scale": {"domain": [-1.5, 1.5], "nice": false, "zero": false}, "axis": {"orient": "left", "values": [-1, 0, 1], "title": null}}}},
            {"data": {"name": "modes"}, "transform": [{"filter": "datum.m == 13"}, {"lookup": "ion", "from": {"data": {"name": "ions"}, "key": "ion", "fields": ["species"]}}], "mark": {"type": "bar", "width": 21.3}, "encoding": {"x": {"field": "ion", "type": "quantitative", "scale": {"domain": [0, 14], "nice": false, "zero": false, "padding": 0}, "axis": {"orient": "bottom", "values": [1, 2, 3, 4, 5, 6, 7, 8, 9, 10, 11, 12, 13], "format": "d", "labelPadding": 9, "title": "Ion 𝑖"}}, "y": {"field": "amp", "type": "quantitative", "axis": {"orient": "right", "values": [-1, 0, 1], "labels": false, "title": null}}, "color": {"field": "species", "type": "nominal", "scale": {"domain": ["bulk", "edge"], "range": ["#0072BD", "#D95319"]}, "legend": null}}},
            {"data": {"name": "labels"}, "transform": [{"filter": "datum.m == 13"}], "encoding": {"y": {"datum": 1, "type": "quantitative"}}, "layer": [
              {"mark": {"type": "text", "text": "m", "fontStyle": "italic", "align": "right"}, "encoding": {"x": {"datum": 6.0, "type": "quantitative"}}},
              {"mark": {"type": "text", "text": "=", "align": "center"}, "encoding": {"x": {"datum": 6.5, "type": "quantitative"}}},
              {"mark": {"type": "text", "align": "right"}, "encoding": {"x": {"datum": 7.88, "type": "quantitative"}, "text": {"field": "m", "type": "nominal"}}},
              {"mark": {"type": "text", "text": ":", "align": "right"}, "encoding": {"x": {"datum": 8.19, "type": "quantitative"}}},
              {"mark": {"type": "text", "align": "left"}, "encoding": {"x": {"datum": 9, "type": "quantitative", "axis": {"orient": "top", "values": [1, 2, 3, 4, 5, 6, 7, 8, 9, 10, 11, 12, 13], "labels": false, "title": null}}, "text": {"field": "freq", "type": "nominal"}}}
            ]}
          ]
        }
      ]
    }
  ]
}
